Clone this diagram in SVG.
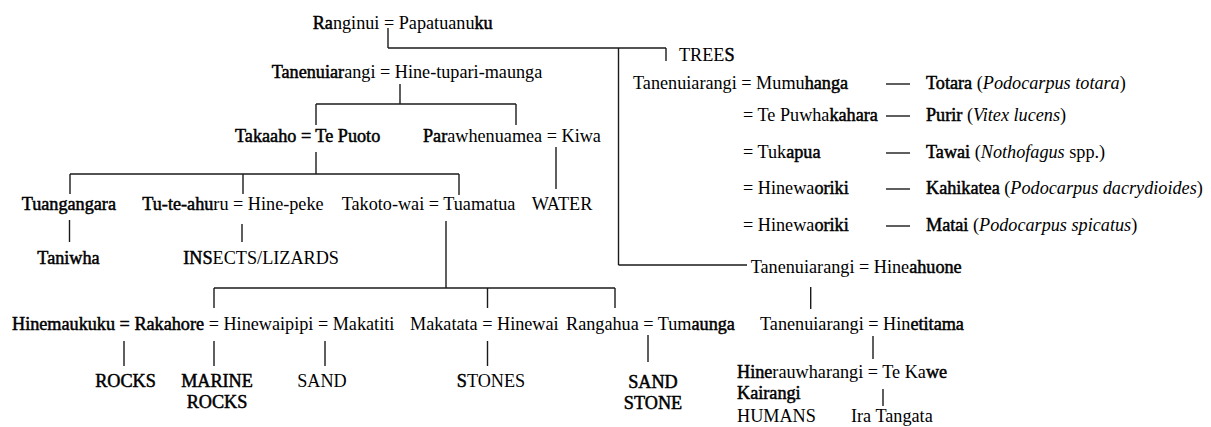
<svg xmlns="http://www.w3.org/2000/svg" width="1211" height="427" viewBox="0 0 1211 427">
<style>
text{font-family:"Liberation Serif","Times New Roman",serif;font-size:18.2px;fill:#000}
.b{stroke:#000;stroke-width:0.5px}
.i{font-style:italic}
.m{text-anchor:middle}
#connectors line{stroke:#1a1a1a;stroke-width:1.4;fill:none}
</style>
<rect width="1211" height="427" fill="#fff"/>
<g id="connectors">
 <line x1="388" y1="28" x2="388" y2="48"/>
 <line x1="388" y1="48" x2="666" y2="48"/>
 <line x1="666" y1="48" x2="666" y2="61"/>
 <line x1="618.5" y1="48" x2="618.5" y2="265"/>
 <line x1="618.5" y1="265" x2="747" y2="265"/>
 <line x1="400" y1="84" x2="400" y2="104"/>
 <line x1="316" y1="104" x2="516" y2="104"/>
 <line x1="316" y1="104" x2="316" y2="125"/>
 <line x1="516" y1="104" x2="516" y2="125"/>
 <line x1="316" y1="152" x2="316" y2="174"/>
 <line x1="556" y1="147" x2="556" y2="189"/>
 <line x1="70" y1="174" x2="459" y2="174"/>
 <line x1="70" y1="174" x2="70" y2="194"/>
 <line x1="243" y1="174" x2="243" y2="194"/>
 <line x1="459" y1="174" x2="459" y2="195"/>
 <line x1="69.5" y1="220" x2="69.5" y2="242"/>
 <line x1="242" y1="224" x2="242" y2="242"/>
 <line x1="446" y1="221" x2="446" y2="288"/>
 <line x1="214" y1="288" x2="615" y2="288"/>
 <line x1="214" y1="288" x2="214" y2="308"/>
 <line x1="487.5" y1="288" x2="487.5" y2="308"/>
 <line x1="615" y1="288" x2="615" y2="308"/>
 <line x1="124" y1="341" x2="124" y2="366"/>
 <line x1="214" y1="341" x2="214" y2="366"/>
 <line x1="325" y1="341" x2="325" y2="366"/>
 <line x1="487.5" y1="341" x2="487.5" y2="366"/>
 <line x1="648" y1="335" x2="648" y2="362"/>
 <line x1="810.7" y1="287" x2="810.7" y2="309"/>
 <line x1="873" y1="336" x2="873" y2="359"/>
 <line x1="883" y1="389" x2="883" y2="406"/>
 <line x1="886" y1="84" x2="910" y2="84"/>
 <line x1="886" y1="116" x2="910" y2="116"/>
 <line x1="886" y1="153" x2="910" y2="153"/>
 <line x1="886" y1="189" x2="910" y2="189"/>
 <line x1="886" y1="226" x2="910" y2="226"/>
</g>
<g id="n-ranginui"><text x="312.7" y="29"><tspan class="b">Ra</tspan>nginui = Papatuanu<tspan class="b">ku</tspan></text></g>
<g id="n-trees"><text x="679" y="61">TREE<tspan class="b">S</tspan></text></g>
<g id="n-tane-hinetupari"><text x="271.7" y="77.5"><tspan class="b">Tanenuiar</tspan>angi = Hine-tupari-maunga</text></g>
<g id="n-mumuhanga"><text x="633" y="89">Tanenuiarangi = Mumu<tspan class="b">hanga</tspan></text></g>
<g id="n-totara"><text x="926" y="89"><tspan class="b">Totara</tspan> (<tspan class="i">Podocarpus totara</tspan>)</text></g>
<g id="n-tepuwhakahara"><text x="743" y="121">= Te Puwha<tspan class="b">kahara</tspan></text></g>
<g id="n-purir"><text x="926" y="121"><tspan class="b">Purir</tspan> (<tspan class="i">Vitex lucens</tspan>)</text></g>
<g id="n-tukapua"><text x="743" y="158">= Tuk<tspan class="b">apua</tspan></text></g>
<g id="n-tawai"><text x="926" y="158"><tspan class="b">Tawai</tspan> (<tspan class="i">Nothofagus</tspan> spp.)</text></g>
<g id="n-hinewaoriki1"><text x="743" y="194">= Hinewa<tspan class="b">oriki</tspan></text></g>
<g id="n-kahikatea"><text x="926" y="194"><tspan class="b">Kahikatea</tspan> (<tspan class="i">Podocarpus dacrydioides</tspan>)</text></g>
<g id="n-hinewaoriki2"><text x="743" y="231">= Hinewa<tspan class="b">oriki</tspan></text></g>
<g id="n-matai"><text x="926" y="231"><tspan class="b">Matai</tspan> (<tspan class="i">Podocarpus spicatus</tspan>)</text></g>
<g id="n-takaaho"><text x="235" y="142" class="b">Takaaho = Te Puoto</text></g>
<g id="n-parawhenuamea"><text x="423" y="142"><tspan class="b">Par</tspan>awhenuamea = Kiwa</text></g>
<g id="n-tuangangara"><text x="21.7" y="210" class="b">Tuangangara</text></g>
<g id="n-tuteahuru"><text x="142.3" y="210"><tspan class="b">Tu-te-ahu</tspan>ru = Hine-peke</text></g>
<g id="n-takotowai"><text x="341.7" y="210">Takoto-wai = Tuamatua</text></g>
<g id="n-water"><text x="531.7" y="210">WATER</text></g>
<g id="n-taniwha"><text x="37.3" y="263.5" class="b">Taniwha</text></g>
<g id="n-insects"><text x="183.3" y="264"><tspan class="b">INS</tspan>ECTS/LIZARDS</text></g>
<g id="n-hineahuone"><text x="750.7" y="273">Tanenuiarangi = Hine<tspan class="b">ahuone</tspan></text></g>
<g id="n-rakahore"><text x="12" y="330"><tspan class="b">Hinemaukuku = Rakahore</tspan> = Hinewaipipi = Makatiti</text></g>
<g id="n-makatata"><text x="410" y="330">Makatata = Hinewai</text></g>
<g id="n-rangahua"><text x="566" y="330">Rangahua = Tum<tspan class="b">aunga</tspan></text></g>
<g id="n-hinetitama"><text x="760" y="330">Tanenuiarangi = Hin<tspan class="b">etitama</tspan></text></g>
<g id="n-rocks"><text x="125.5" y="387" class="m b">ROCKS</text></g>
<g id="n-marinerocks"><text x="217" y="387" class="m b">MARINE</text><text x="217" y="408" class="m b">ROCKS</text></g>
<g id="n-sand"><text x="322" y="387" class="m">SAND</text></g>
<g id="n-stones"><text x="491" y="387" class="m"><tspan class="b">S</tspan>TONES</text></g>
<g id="n-sandstone"><text x="653" y="388" class="m b">SAND</text><text x="653" y="409" class="m b">STONE</text></g>
<g id="n-hinerauwharangi"><text x="737" y="378"><tspan class="b">Hine</tspan>rauwharangi = Te Ka<tspan class="b">we</tspan></text><text x="737" y="399" class="b">Kairangi</text></g>
<g id="n-humans"><text x="737" y="422">HUMANS</text></g>
<g id="n-iratangata"><text x="851" y="422">Ira Tangata</text></g>
</svg>
